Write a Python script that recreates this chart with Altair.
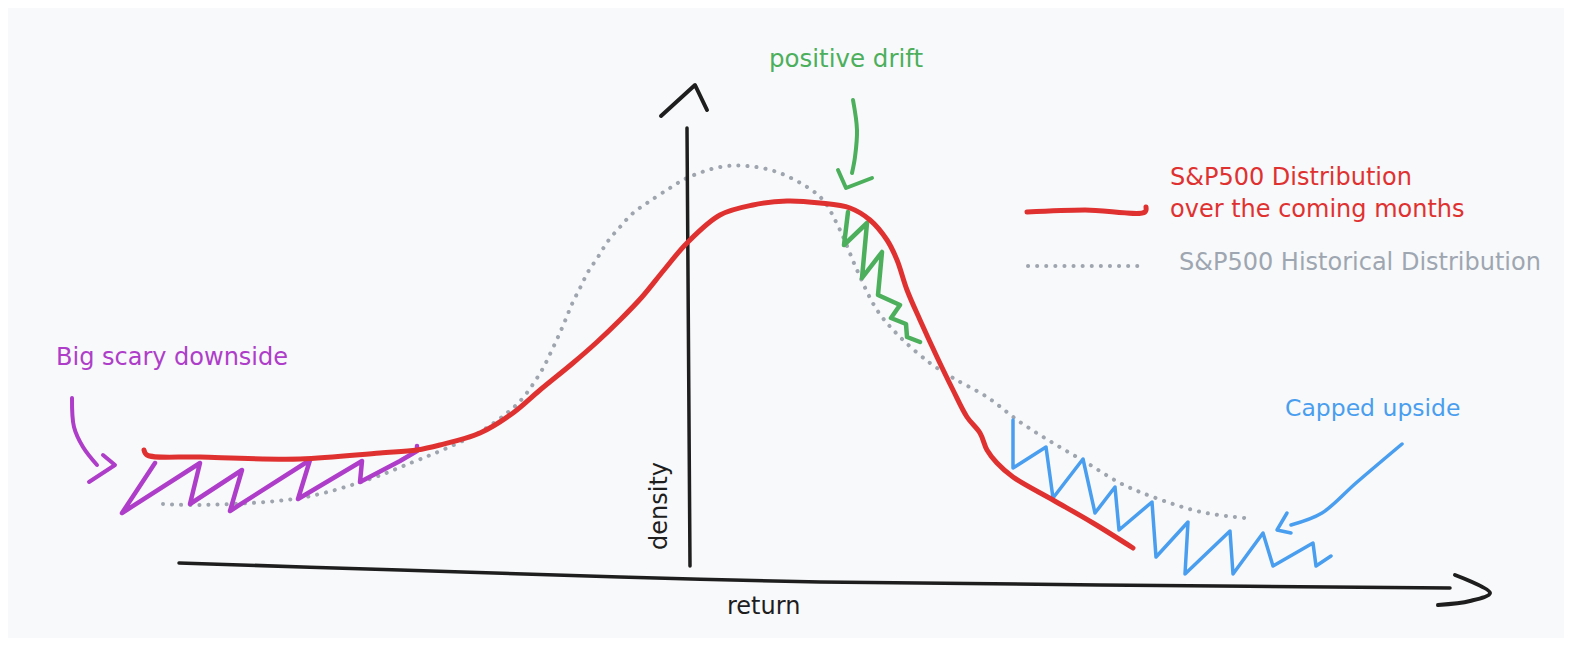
import altair as alt
import pandas as pd

W, H = 1556, 630
FONT = "DejaVu Sans"

# ---- data (page pixel coordinates) ----
RED_X = [144, 147, 200, 300, 380, 417, 440, 480, 513, 540, 573, 597, 620, 642, 664, 687, 720, 753, 787, 820, 850, 870, 887, 897, 907, 920, 937, 953, 967, 980, 987, 997, 1013, 1053, 1093, 1133]
RED_Y = [450, 455, 457, 459, 453, 450, 445, 433, 413, 390, 363, 342, 320, 297, 270, 243, 215, 205, 201, 203, 208, 220, 240, 260, 290, 320, 357, 390, 417, 433, 450, 463, 477, 500, 523, 548]

HIST_X = [163, 200, 300, 367, 413, 447, 480, 507, 522, 542, 550, 558, 565, 572, 580, 588, 598, 608, 620, 632, 647, 670, 687, 720, 747, 777, 807, 823, 840, 857, 877, 900, 930, 953, 987, 1020, 1053, 1087, 1120, 1153, 1201, 1245]
HIST_Y = [504, 505, 498, 480, 462, 448, 432, 413, 399, 370, 354, 337, 321, 304, 288, 272, 257, 241, 227, 214, 203, 188, 178, 167, 166, 172, 187, 200, 230, 270, 310, 337, 363, 378, 397, 422, 443, 463, 483, 497, 512, 518]

PURPLE_X = [155, 122, 200, 190, 242, 230, 310, 298, 362, 360, 400, 417, 417]
PURPLE_Y = [463, 513, 463, 504, 470, 511, 460, 499, 461, 482, 461, 451, 446]

GREEN_X = [848, 844, 867, 862, 882, 878, 900, 891, 906, 907, 920]
GREEN_Y = [212, 245, 223, 278, 252, 295, 305, 318, 324, 337, 342]

BLUE_X = [1013, 1013, 1046, 1053, 1083, 1095, 1115, 1119, 1152, 1156, 1188, 1185, 1230, 1233, 1263, 1273, 1313, 1316, 1331]
BLUE_Y = [420, 468, 447, 498, 459, 513, 487, 530, 502, 557, 522, 574, 531, 574, 533, 566, 543, 566, 556]

XAXIS_X = [179, 400, 620, 820, 1100, 1450]
XAXIS_Y = [563, 570, 577, 582, 585, 588]
XHEAD_X = [1455, 1490, 1470, 1438]
XHEAD_Y = [575, 593, 601, 605]

YAXIS_X = [687, 690]
YAXIS_Y = [128, 566]
YHEAD_X = [661, 695, 707]
YHEAD_Y = [116, 85, 110]

PARROW_X = [72, 74, 83, 97]
PARROW_Y = [398, 427, 447, 465]
PHEAD_X = [103, 115, 89]
PHEAD_Y = [455, 465, 482]

GARROW_X = [853, 857, 855, 852]
GARROW_Y = [100, 130, 157, 173]
GHEAD_X = [838, 846, 872]
GHEAD_Y = [170, 188, 178]

BARROW_X = [1402, 1356, 1322, 1291]
BARROW_Y = [444, 483, 513, 525]
BHEAD_X = [1287, 1277, 1291]
BHEAD_Y = [513, 530, 533]

LEG_RED_X = [1027, 1085, 1145, 1146]
LEG_RED_Y = [212, 210, 212, 207]
LEG_DOT_X = [1028, 1138]
LEG_DOT_Y = [266, 266]

TEXTS = [
    # label, x, y, color, size, align
    ("positive drift", 846, 60, "#4caf5c", 24.5, "center"),
    ("S&P500 Distribution", 1170, 178, "#e03131", 24, "left"),
    ("over the coming months", 1170, 210, "#e03131", 24, "left"),
    ("S&P500 Historical Distribution", 1179, 263, "#9ea6b1", 24, "left"),
    ("Big scary downside", 56, 358, "#ae3ec9", 24, "left"),
    ("Capped upside", 1285, 409, "#4a9eef", 23.5, "left"),
    ("return", 727, 607, "#1e1e1e", 24, "left"),
]
DENSITY = ("density", 660, 506)

RED = "#e03131"
GRAY = "#9ea5ae"
PURPLE = "#ae3ec9"
GREEN = "#4caf5c"
BLUE = "#4a9eef"
INK = "#1e1e1e"

XS = alt.Scale(domain=[8, 8 + W], nice=False, zero=False)
YS = alt.Scale(domain=[8, 8 + H], nice=False, zero=False, reverse=True)


def line_layer(xs, ys, color, width, interp="linear", dash=None):
    df = pd.DataFrame({"x": xs, "y": ys, "o": list(range(len(xs)))})
    kw = dict(color=color, strokeWidth=width, strokeCap="round",
              strokeJoin="round", interpolate=interp)
    if dash is not None:
        kw["strokeDash"] = dash
    return alt.Chart(df).mark_line(**kw).encode(
        x=alt.X("x:Q", scale=XS, axis=None),
        y=alt.Y("y:Q", scale=YS, axis=None),
        order="o:Q",
    )


def text_layer(label, x, y, color, size, align, angle=0):
    df = pd.DataFrame({"x": [x], "y": [y], "t": [label]})
    kw = dict(font=FONT, fontSize=size, color=color, align=align,
              baseline="middle")
    if angle:
        kw["angle"] = angle
    return alt.Chart(df).mark_text(**kw).encode(
        x=alt.X("x:Q", scale=XS, axis=None),
        y=alt.Y("y:Q", scale=YS, axis=None),
        text="t:N",
    )


layers = [
    line_layer(HIST_X, HIST_Y, GRAY, 4, "catmull-rom", [0.1, 9]),
    line_layer(XAXIS_X, XAXIS_Y, INK, 3.5, "catmull-rom"),
    line_layer(XHEAD_X, XHEAD_Y, INK, 4, "catmull-rom"),
    line_layer(YAXIS_X, YAXIS_Y, INK, 3.5),
    line_layer(YHEAD_X, YHEAD_Y, INK, 4),
    line_layer(PURPLE_X, PURPLE_Y, PURPLE, 4.5),
    line_layer(GREEN_X, GREEN_Y, GREEN, 4.5),
    line_layer(BLUE_X, BLUE_Y, BLUE, 3.5),
    line_layer(RED_X, RED_Y, RED, 5, "catmull-rom"),
    line_layer(PARROW_X, PARROW_Y, PURPLE, 4, "catmull-rom"),
    line_layer(PHEAD_X, PHEAD_Y, PURPLE, 4),
    line_layer(GARROW_X, GARROW_Y, GREEN, 4, "catmull-rom"),
    line_layer(GHEAD_X, GHEAD_Y, GREEN, 4),
    line_layer(BARROW_X, BARROW_Y, BLUE, 3.5, "catmull-rom"),
    line_layer(BHEAD_X, BHEAD_Y, BLUE, 3.5),
    line_layer(LEG_RED_X, LEG_RED_Y, RED, 5, "catmull-rom"),
    line_layer(LEG_DOT_X, LEG_DOT_Y, GRAY, 4, "linear", [0.1, 9]),
]
for t in TEXTS:
    layers.append(text_layer(*t))
layers.append(text_layer(DENSITY[0], DENSITY[1], DENSITY[2], INK, 24, "center", 270))

chart = alt.layer(*layers).properties(
    width=W, height=H, padding=0, background="#f8f9fa"
).configure_view(stroke=None)

chart.save("out.html", embed_options={"renderer": "svg", "actions": False})
